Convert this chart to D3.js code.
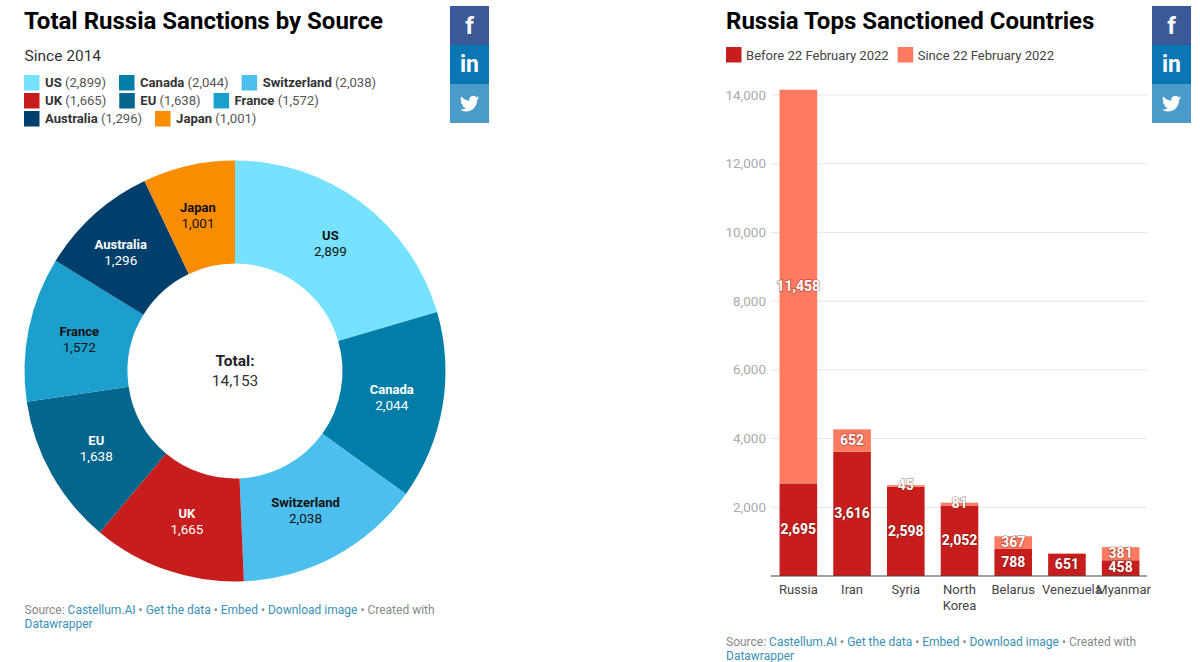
<!DOCTYPE html>
<html>
<head>
<meta charset="utf-8">
<script src="https://cdn.jsdelivr.net/npm/d3@7"></script>
<style>
  html, body { margin: 0; padding: 0; background: #fff; }
  svg { display: block; font-family: Roboto, sans-serif; }
</style>
</head>
<body>
<svg width="1200" height="662"></svg>
<script>
// data
const sources = ["US", "Canada", "Switzerland", "UK", "EU", "France", "Australia", "Japan"];
const sourceValues = [2899, 2044, 2038, 1665, 1638, 1572, 1296, 1001];
const sourceColors = ["#76e2ff", "#007ea7", "#4cbfee", "#c71e1d", "#05668d", "#1d9fcd", "#003e6b", "#fa8c00"];
const legendRows = [3, 3, 2];

const countries = ["Russia", "Iran", "Syria", "North Korea", "Belarus", "Venezuela", "Myanmar"];
const before = [2695, 3616, 2598, 2052, 788, 651, 458];
const since = [11458, 652, 45, 81, 367, 0, 381];
const periods = ["Before 22 February 2022", "Since 22 February 2022"];
const periodColors = ["#c71e1d", "#ff7a5f"];
const yTicks = [2000, 4000, 6000, 8000, 10000, 12000, 14000];

const svg = d3.select("svg");
const fmt = d3.format(",");

// title
function title(x, text) {
  svg.append("text").attr("x", x).attr("y", 29)
    .attr("font-size", 24).attr("font-weight", 700).attr("fill", "#000")
    .text(text);
}
title(24, "Total Russia Sanctions by Source");
title(726, "Russia Tops Sanctioned Countries");

svg.append("text").attr("x", 24.5).attr("y", 61)
  .attr("font-size", 15.5).attr("fill", "#333").text("Since 2014");

// social buttons
function social(x) {
  const y = 6, s = 39;
  svg.append("rect").attr("x", x).attr("y", y).attr("width", s).attr("height", s).attr("fill", "#3b5998");
  svg.append("rect").attr("x", x).attr("y", y + s).attr("width", s).attr("height", s).attr("fill", "#0a76b4");
  svg.append("rect").attr("x", x).attr("y", y + 2 * s).attr("width", s).attr("height", s).attr("fill", "#4a9bc9");
  svg.append("text").attr("x", x + s / 2).attr("y", y + 28).attr("text-anchor", "middle")
    .attr("font-size", 24).attr("font-weight", 700).attr("fill", "#fff").text("f");
  svg.append("text").attr("x", x + s / 2).attr("y", y + s + 27).attr("text-anchor", "middle")
    .attr("font-size", 23).attr("font-weight", 700).attr("fill", "#fff").text("in");
  svg.append("path")
    .attr("transform", `translate(${x + 10},${y + 2 * s + 10}) scale(0.8)`)
    .attr("fill", "#fff")
    .attr("d", "M24 4.6a9.8 9.8 0 0 1-2.8.8 4.9 4.9 0 0 0 2.2-2.7 9.8 9.8 0 0 1-3.1 1.2 4.9 4.9 0 0 0-8.4 4.5A14 14 0 0 1 1.7 3.2a4.9 4.9 0 0 0 1.5 6.6 4.9 4.9 0 0 1-2.2-.6 4.9 4.9 0 0 0 3.9 4.9 4.9 4.9 0 0 1-2.2.1 4.9 4.9 0 0 0 4.6 3.4A9.9 9.9 0 0 1 0 19.6a14 14 0 0 0 7.5 2.2c9.1 0 14.2-7.7 13.9-14.6A10 10 0 0 0 24 4.6z");
}
social(450);
social(1152);

// donut legend
let idx = 0;
legendRows.forEach((count, row) => {
  let x = 24;
  const y = 75 + row * 18;
  for (let i = 0; i < count; i++, idx++) {
    svg.append("rect").attr("x", x).attr("y", y).attr("width", 15.5).attr("height", 15.5).attr("fill", sourceColors[idx]);
    const t = svg.append("text").attr("x", x + 21).attr("y", y + 12)
      .attr("font-size", 13.1).attr("fill", "#333");
    t.append("tspan").attr("font-weight", 700).text(sources[idx]);
    t.append("tspan").attr("fill", "#555").text(" (" + fmt(sourceValues[idx]) + ")");
    x += 21 + t.node().getComputedTextLength() + 13;
  }
});

// donut
const pie = d3.pie().sort(null)(sourceValues);
const arc = d3.arc().innerRadius(107.5).outerRadius(210.5);
const donut = svg.append("g").attr("transform", "translate(235,371)");

donut.selectAll("path").data(pie).join("path")
  .attr("d", arc)
  .attr("fill", (d, i) => sourceColors[i]);

// a few labels sit off the centroid in the original
const labelNudgeX = [0, 0, -5, 3, 0, 0, -8, -2];

donut.selectAll("g.slice").data(pie).join("g")
  .attr("class", "slice")
  .attr("transform", (d, i) => {
    const [cx, cy] = arc.centroid(d);
    return `translate(${cx + labelNudgeX[i]},${cy - 1.5})`;
  })
  .each(function (d, i) {
    const col = d3.lab(sourceColors[i]).l > 55 ? "#111" : "#fff";
    const g = d3.select(this);
    g.append("text").attr("text-anchor", "middle").attr("y", -2)
      .attr("font-size", 13).attr("font-weight", 700).attr("fill", col).text(sources[i]);
    g.append("text").attr("text-anchor", "middle").attr("y", 14)
      .attr("font-size", 13.5).attr("fill", col).text(fmt(d.value));
  });

donut.append("text").attr("text-anchor", "middle").attr("y", -5)
  .attr("font-size", 15.5).attr("font-weight", 700).attr("fill", "#222").text("Total:");
donut.append("text").attr("text-anchor", "middle").attr("y", 15)
  .attr("font-size", 15.5).attr("fill", "#333").text(fmt(d3.sum(sourceValues)));

// bar chart legend
let lx = 726;
periods.forEach((p, i) => {
  svg.append("rect").attr("x", lx).attr("y", 47).attr("width", 15.5).attr("height", 15.5).attr("fill", periodColors[i]);
  const t = svg.append("text").attr("x", lx + 20).attr("y", 59.5)
    .attr("font-size", 13.05).attr("fill", "#444").text(p);
  lx += 20 + t.node().getComputedTextLength() + 9;
});

// bars
const x = d3.scaleBand().domain(countries).range([771.5, 1147.5]).paddingInner(0.3).paddingOuter(0.15);
const y = d3.scaleLinear().domain([0, 14000]).range([576, 95]);

const grid = svg.append("g");
grid.selectAll("line").data(yTicks).join("line")
  .attr("x1", 771).attr("x2", 1147)
  .attr("y1", d => y(d)).attr("y2", d => y(d))
  .attr("stroke", "#e6e6e6");
grid.selectAll("text").data(yTicks).join("text")
  .attr("x", 766).attr("y", d => y(d) + 4.5)
  .attr("text-anchor", "end")
  .attr("font-size", 13.5).attr("fill", "#aaa")
  .text(fmt);

const stack = countries.map((c, i) => ({ c, b: before[i], s: since[i] }));

svg.selectAll("rect.before").data(stack).join("rect")
  .attr("class", "before")
  .attr("x", d => x(d.c)).attr("width", x.bandwidth())
  .attr("y", d => y(d.b)).attr("height", d => y(0) - y(d.b))
  .attr("fill", periodColors[0]);
svg.selectAll("rect.since").data(stack).join("rect")
  .attr("class", "since")
  .attr("x", d => x(d.c)).attr("width", x.bandwidth())
  .attr("y", d => y(d.b + d.s)).attr("height", d => y(d.b) - y(d.b + d.s))
  .attr("fill", periodColors[1]);

svg.append("line").attr("x1", 771).attr("x2", 1147).attr("y1", y(0)).attr("y2", y(0))
  .attr("stroke", "#444").attr("stroke-width", 1.2);

// value labels, with a soft dark halo like the original
function barLabel(value, cx, cy) {
  svg.append("text").attr("x", cx).attr("y", cy + 4.2)
    .attr("text-anchor", "middle")
    .attr("font-size", 14).attr("font-weight", 700).attr("fill", "#fff")
    .attr("stroke", "rgba(90,20,15,0.45)").attr("stroke-width", 1.5).attr("paint-order", "stroke")
    .text(fmt(value));
}
stack.forEach(d => {
  const cx = x(d.c) + x.bandwidth() / 2;
  barLabel(d.b, cx, y(d.b / 2));
  if (d.s > 0) barLabel(d.s, cx, y(d.b + d.s / 2));
});

// country labels, the last two are pushed right in the original
const tickNudgeX = [0, 0, 0, 0, 0, 5, 3];
countries.forEach((c, k) => {
  const words = c === "North Korea" ? c.split(" ") : [c];
  words.forEach((w, i) => {
    svg.append("text").attr("x", x(c) + x.bandwidth() / 2 + tickNudgeX[k]).attr("y", 594 + i * 15.5)
      .attr("text-anchor", "middle")
      .attr("font-size", 13).attr("fill", "#444").text(w);
  });
});

// footers
function footer(x0, y0) {
  const t = svg.append("text").attr("x", x0).attr("y", y0).attr("font-size", 12).attr("fill", "#888");
  const link = "#3a8fb7";
  t.append("tspan").text("Source: ");
  t.append("tspan").attr("fill", link).text("Castellum.AI");
  t.append("tspan").text(" • ");
  t.append("tspan").attr("fill", link).text("Get the data");
  t.append("tspan").text(" • ");
  t.append("tspan").attr("fill", link).text("Embed");
  t.append("tspan").text(" • ");
  t.append("tspan").attr("fill", link).text("Download image");
  t.append("tspan").text(" • Created with");
  svg.append("text").attr("x", x0).attr("y", y0 + 14).attr("font-size", 12).attr("fill", link).text("Datawrapper");
}
footer(24.5, 614);
footer(726, 646);
</script>
</body>
</html>
